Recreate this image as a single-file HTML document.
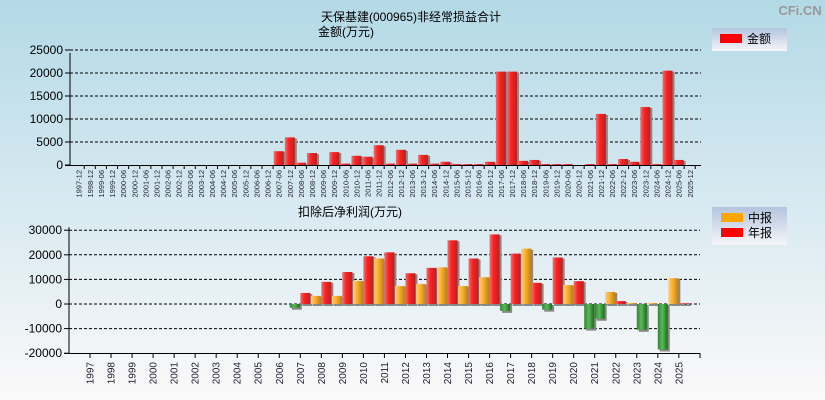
<!DOCTYPE html>
<html><head><meta charset="utf-8"><style>
body{margin:0;width:825px;height:400px;overflow:hidden;font-family:"Liberation Sans","Noto Sans CJK SC",sans-serif;}
svg{display:block}
</style></head><body>
<svg id="c" width="825" height="400" xmlns="http://www.w3.org/2000/svg">
<defs>
<linearGradient id="bg" x1="0" y1="0" x2="0" y2="1"><stop offset="0" stop-color="#b3d9e6"/><stop offset="0.5" stop-color="#d7e9f1"/><stop offset="1" stop-color="#fbf9f9"/></linearGradient>
<linearGradient id="gr" x1="0" y1="0" x2="1" y2="0"><stop offset="0" stop-color="#ff6a6a"/><stop offset="0.4" stop-color="#ff2020"/><stop offset="1" stop-color="#a82828"/></linearGradient>
<linearGradient id="go" x1="0" y1="0" x2="1" y2="0"><stop offset="0" stop-color="#ffd070"/><stop offset="0.4" stop-color="#ffb030"/><stop offset="1" stop-color="#b88020"/></linearGradient>
<linearGradient id="gg" x1="0" y1="0" x2="1" y2="0"><stop offset="0" stop-color="#2a8a2a"/><stop offset="0.45" stop-color="#5ab85a"/><stop offset="1" stop-color="#1e6a1e"/></linearGradient>
<linearGradient id="lg" x1="0" y1="0" x2="0" y2="1"><stop offset="0" stop-color="#b4c4de"/><stop offset="1" stop-color="#f6f6fa"/></linearGradient>
</defs>
<rect width="825" height="400" fill="url(#bg)"/>
<text x="800" y="15" font-size="13" font-weight="bold" fill="#999" text-anchor="middle">CFi.CN</text>
<text x="411" y="21" font-size="12" text-anchor="middle">天保基建(000965)非经常损益合计</text>
<text x="346" y="36" font-size="12" text-anchor="middle">金额(万元)</text>
<text x="350" y="216" font-size="12" text-anchor="middle">扣除后净利润(万元)</text>
<g>
<rect x="712" y="28" width="75" height="23" fill="url(#lg)"/>
<rect x="720" y="34" width="22" height="9" fill="#f00"/>
<text x="747" y="43" font-size="12">金额</text>
</g>
<g>
<rect x="712" y="207" width="75" height="38" fill="url(#lg)"/>
<rect x="721" y="213" width="22" height="9" fill="#ffa500"/>
<text x="748" y="222" font-size="12">中报</text>
<rect x="721" y="228" width="22" height="9" fill="#f00"/>
<text x="748" y="237" font-size="12">年报</text>
</g>
<g id="top"></g>
<g id="bot"></g>
</svg>
<script>
const topCats=["1997-12","1998-12","1999-06","1999-12","2000-06","2000-12","2001-06","2001-12","2002-06","2002-12","2003-06","2003-12","2004-06","2004-12","2005-06","2005-12","2006-06","2006-12","2007-06","2007-12","2008-06","2008-12","2009-06","2009-12","2010-06","2010-12","2011-06","2011-12","2012-06","2012-12","2013-06","2013-12","2014-06","2014-12","2015-06","2015-12","2016-06","2016-12","2017-06","2017-12","2018-06","2018-12","2019-06","2019-12","2020-06","2020-12","2021-06","2021-12","2022-06","2022-12","2023-06","2023-12","2024-06","2024-12","2025-06","2025-12"];
const topVals=[0,0,0,0,0,0,0,0,0,0,0,0,0,0,0,0,0,0,3000,6000,500,2600,0,2800,300,2000,1800,4300,300,3300,300,2200,300,700,200,200,200,700,20300,20300,900,1100,200,200,200,0,200,11100,200,1300,700,12600,200,20500,1100,0];
const topTicks=[0,5000,10000,15000,20000,25000];
const years=[1997,1998,1999,2000,2001,2002,2003,2004,2005,2006,2007,2008,2009,2010,2011,2012,2013,2014,2015,2016,2017,2018,2019,2020,2021,2022,2023,2024,2025];
const interim=[0,0,0,0,0,0,0,0,0,0,-1500,3300,3300,9400,18500,7300,8100,14900,7300,10900,-2800,22500,-2300,7700,-10000,4900,400,400,10500];
const annual=[0,0,0,0,0,0,0,0,0,0,4500,9000,13000,19400,21000,12500,14700,25900,18500,28300,20500,8600,18900,9300,-6000,1200,-10500,-18500,300];
const botTicks=[-20000,-10000,0,10000,20000,30000];
const NS="http://www.w3.org/2000/svg";
function el(p,t,a){const e=document.createElementNS(NS,t);for(const k in a)e.setAttribute(k,a[k]);p.appendChild(e);return e;}
const T=document.getElementById('top');
const tx0=70,tx1=701,step=11.11,ty=v=>165-v*(115/25000);
const tcx=i=>78.7+i*step;
topTicks.forEach(t=>{
 const g=el(T,'g',{});
 
 
 if(t>0)el(g,'line',{x1:tx0,x2:tx1,y1:ty(t),y2:ty(t),stroke:'#000','stroke-dasharray':'3,2','stroke-width':1});
 el(g,'line',{x1:tx0-5,x2:tx0,y1:ty(t),y2:ty(t),stroke:'#000'});
 const tt=el(g,'text',{x:tx0-7,y:ty(t)+4,'font-size':12,'text-anchor':'end'});tt.textContent=t;
});
topVals.forEach((v,i)=>{
 if(v<=0)return;
 const x=tcx(i)-5,y=ty(v),h=165-y;
 el(T,'rect',{x:x+2,y:y+1,width:10,height:h-1,fill:'#888'});
 const r=el(T,'rect',{x:x,y:y,width:10,height:h,fill:'url(#gr)'});
 
 
});
el(T,'line',{x1:tx0,x2:tx0,y1:ty(25000)+3,y2:166,stroke:'#000'});
el(T,'line',{x1:tx0-5,x2:tx1,y1:165.5,y2:165.5,stroke:'#000'});
topCats.forEach((c,i)=>{
 el(T,'line',{x1:tcx(i)+5.5,x2:tcx(i)+5.5,y1:165,y2:169,stroke:'#000'});
 const t=el(T,'text',{x:0,y:0,'font-size':7.5,'text-anchor':'end',fill:'#223',transform:`translate(${tcx(i)+3},170) rotate(-90)`});
 
 
 t.textContent=c;
});
const B=document.getElementById('bot');
const bx0=69,bx1=700,bstep=21.03,by=v=>304-v*(24.6/10000);
const bcx=i=>90+i*bstep;
botTicks.forEach(t=>{
 const g=el(B,'g',{});
 
 
 if(t>-20000)el(g,'line',{x1:bx0,x2:bx1,y1:by(t),y2:by(t),stroke:'#000','stroke-dasharray':'3,2'});
 el(g,'line',{x1:bx0-5,x2:bx0,y1:by(t),y2:by(t),stroke:'#000'});
 const tt=el(g,'text',{x:bx0-7,y:by(t)+4,'font-size':12,'text-anchor':'end'});tt.textContent=t;
});
function bar(x,v,fill){
 const y0=by(0),y=by(v),top=Math.min(y,y0),h=Math.abs(y-y0);
 el(B,'rect',{x:x+2,y:top+1,width:10,height:h+1,fill:'#888'});
 const r=el(B,'rect',{x:x,y:top,width:10,height:h,fill:v<0?'url(#gg)':fill});
 
 
}
years.forEach((y,i)=>{
 if(interim[i]!==0)bar(bcx(i)-10.5,interim[i],'url(#go)');
 if(annual[i]!==0)bar(bcx(i),annual[i],'url(#gr)');
});
el(B,'line',{x1:bx0,x2:bx0,y1:by(30000)-3,y2:353,stroke:'#000'});
el(B,'line',{x1:bx0-5,x2:bx1,y1:353.5,y2:353.5,stroke:'#000'});
el(B,'line',{x1:bx1,x2:bx1,y1:353,y2:358,stroke:'#000'});
years.forEach((y,i)=>{
 el(B,'line',{x1:bcx(i),x2:bcx(i),y1:353,y2:358,stroke:'#000'});
 const t=el(B,'text',{x:0,y:0,'font-size':10,'text-anchor':'end',fill:'#223',transform:`translate(${bcx(i)+3.5},362) rotate(-90)`});
 
 
 t.textContent=y;
});
</script>
</body></html>
